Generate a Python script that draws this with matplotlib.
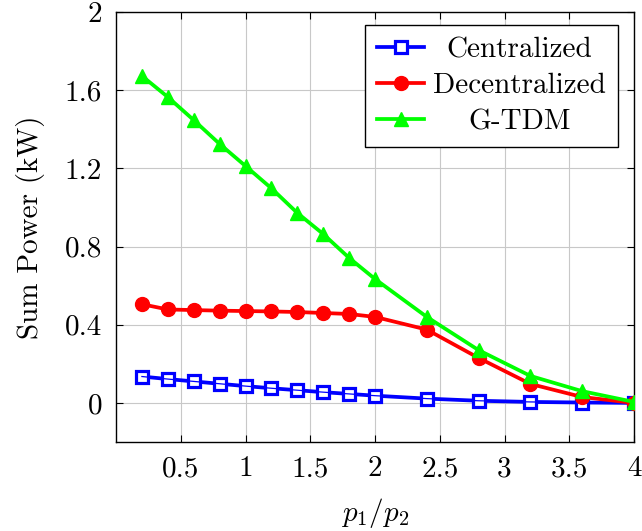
import matplotlib
matplotlib.use("Agg")
import matplotlib.pyplot as plt
from matplotlib.offsetbox import TextArea
from matplotlib.transforms import Bbox

x = [0.2, 0.4, 0.6, 0.8, 1.0, 1.2, 1.4, 1.6, 1.8, 2.0, 2.4, 2.8, 3.2, 3.6, 4.0]
centralized = [0.135, 0.122, 0.110, 0.098, 0.086, 0.075, 0.065, 0.055, 0.046, 0.037, 0.022, 0.011, 0.005, 0.002, 0.0]
decentralized = [0.505, 0.478, 0.475, 0.472, 0.470, 0.468, 0.465, 0.460, 0.455, 0.440, 0.375, 0.230, 0.097, 0.030, 0.0]
gtdm = [1.673, 1.565, 1.447, 1.325, 1.212, 1.098, 0.972, 0.864, 0.742, 0.634, 0.440, 0.270, 0.138, 0.060, 0.005]
series_names = ["Centralized", "Decentralized", "G-TDM"]
xticks = [0.5, 1, 1.5, 2, 2.5, 3, 3.5, 4]
xtick_labels = ["0.5", "1", "1.5", "2", "2.5", "3", "3.5", "4"]
yticks = [0, 0.4, 0.8, 1.2, 1.6, 2]
ytick_labels = ["0", "0.4", "0.8", "1.2", "1.6", "2"]

plt.rcParams['font.family'] = ['cmr10', 'DejaVu Serif']
plt.rcParams['mathtext.fontset'] = 'cm'
plt.rcParams['axes.unicode_minus'] = False

FS = 21
LW = 2.7
fig = plt.figure(figsize=(6.42, 5.31), dpi=100)
ax = fig.add_axes([116/642, 1-442/531, (634-116)/642, (442-12)/531])

ax.plot(x, centralized, color='#0000ff', lw=LW, marker='s', markersize=8.5,
        markerfacecolor='white', markeredgecolor='#0000ff', markeredgewidth=2.3,
        label=series_names[0], zorder=3)
ax.plot(x, centralized, color='#0000ff', lw=0.9, zorder=3.5)
ax.plot(x, decentralized, color='#ff0000', lw=LW, marker='o', markersize=10,
        markerfacecolor='#ff0000', markeredgecolor='#ff0000',
        label=series_names[1], zorder=4)
ax.plot(x, gtdm, color='#00ff00', lw=LW, marker='^', markersize=10.5,
        markerfacecolor='#00ff00', markeredgecolor='#00ff00',
        label=series_names[2], zorder=5)

ax.set_xlim(0, 4)
ax.set_ylim(-0.2, 2)
ax.set_xticks(xticks)
ax.set_xticklabels(xtick_labels)
ax.set_yticks(yticks)
ax.set_yticklabels(ytick_labels)
ax.tick_params(direction='in', length=5, width=0.8, labelsize=FS, top=True, right=True, pad=10)
ax.grid(True, color='#c8c8c8', lw=0.8)
ax.set_axisbelow(True)
for s in ax.spines.values():
    s.set_linewidth(1.0)

ax.set_xlabel(r'$p_1/p_2$', fontsize=FS, labelpad=10)
ax.set_ylabel('Sum Power (kW)', fontsize=FS, labelpad=14)

leg = ax.legend(loc='upper right', fontsize=FS, frameon=True, fancybox=False,
                edgecolor='black', framealpha=1, borderpad=0.42, labelspacing=0.32,
                handlelength=1.6, handletextpad=0.3, borderaxespad=0,
                bbox_to_anchor=(0.969, 0.970))
leg.get_frame().set_linewidth(1.0)

# center legend texts within a common width
renderer = fig.canvas.get_renderer()
tas = [t for t in leg.findobj(TextArea)]
widths = [ta.get_bbox(renderer).width for ta in tas]
W = max(widths) if widths else 0
for ta in tas:
    ta._text.set_ha('center')
    orig = ta.get_bbox
    def nb(r, orig=orig):
        bb = orig(r)
        return Bbox.from_bounds(-W / 2, bb.y0, W, bb.height)
    ta.get_bbox = nb

fig.savefig('out.png', dpi=100)
